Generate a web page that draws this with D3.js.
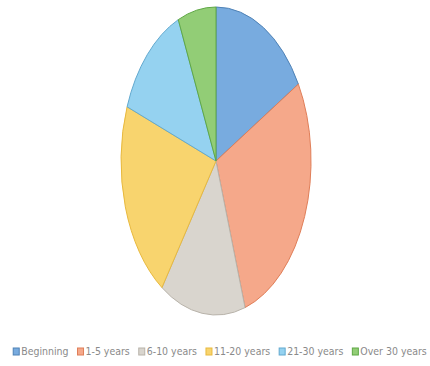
<!DOCTYPE html>
<html>
<head>
<meta charset="utf-8">
<script src="https://cdn.jsdelivr.net/npm/d3@7"></script>
<style>
  html, body { margin: 0; padding: 0; background: #ffffff; }
  svg { display: block; }
</style>
</head>
<body>
<svg id="chart" width="430" height="366"></svg>
<script>
// Years of experience, share of respondents (%)
const categories = ["Beginning", "1-5 years", "6-10 years", "11-20 years", "21-30 years", "Over 30 years"];
const values = [16.7, 28.4, 14.6, 21.1, 12.8, 6.5];
const fills = ["#78abdf", "#f5a88a", "#d9d5ce", "#f8d46e", "#95d2f0", "#92cd76"];
const edges = ["#4f82b6", "#e07e58", "#b8b3aa", "#e8b93e", "#62a9cf", "#5fa845"];

const svg = d3.select("#chart");

// Pie drawn on a unit circle and stretched into an upright ellipse
const cx = 216, cy = 161, rx = 95, ry = 154;
const pie = d3.pie().sort(null).value(d => d.value);
const arc = d3.arc().innerRadius(0).outerRadius(1);

const data = categories.map((c, i) => ({ name: c, value: values[i], i }));

const g = svg.append("g")
  .attr("transform", `translate(${cx},${cy}) scale(${rx},${ry})`);

g.selectAll("path")
  .data(pie(data))
  .join("path")
  .attr("d", arc)
  .attr("fill", d => fills[d.data.i])
  .attr("stroke", d => edges[d.data.i])
  .attr("stroke-width", 1)
  .attr("stroke-linejoin", "round")
  .attr("vector-effect", "non-scaling-stroke");

// Legend row along the bottom, centred and kept within the page width
const legend = svg.append("g").attr("class", "legend");
const items = legend.selectAll("g")
  .data(data)
  .join("g");

items.append("rect")
  .attr("width", 6).attr("height", 7)
  .attr("y", -7)
  .attr("fill", d => fills[d.i])
  .attr("stroke", d => edges[d.i])
  .attr("stroke-width", 1);

const labels = items.append("text")
  .attr("x", 8)
  .attr("y", 0)
  .attr("font-family", "'DejaVu Sans', sans-serif")
  .style("font-stretch", "condensed")
  .attr("font-size", 10.5)
  .attr("fill", "#8a8a8a")
  .text(d => d.name);

const gap = 9;
const maxWidth = 414;
function measure() {
  const w = [];
  items.each(function () {
    w.push(8 + this.querySelector("text").getComputedTextLength());
  });
  return w;
}
let widths = measure();
let total = d3.sum(widths) + gap * (widths.length - 1);
if (total > maxWidth) {
  const fs = 10.5 * (maxWidth - gap * 5 - 48) / (total - gap * 5 - 48);
  labels.attr("font-size", fs);
  widths = measure();
  total = d3.sum(widths) + gap * (widths.length - 1);
}
let start = 220 - total / 2;
items.attr("transform", (d, i) => {
  const pos = start;
  start += widths[i] + gap;
  return `translate(${pos},355)`;
});
</script>
</body>
</html>
